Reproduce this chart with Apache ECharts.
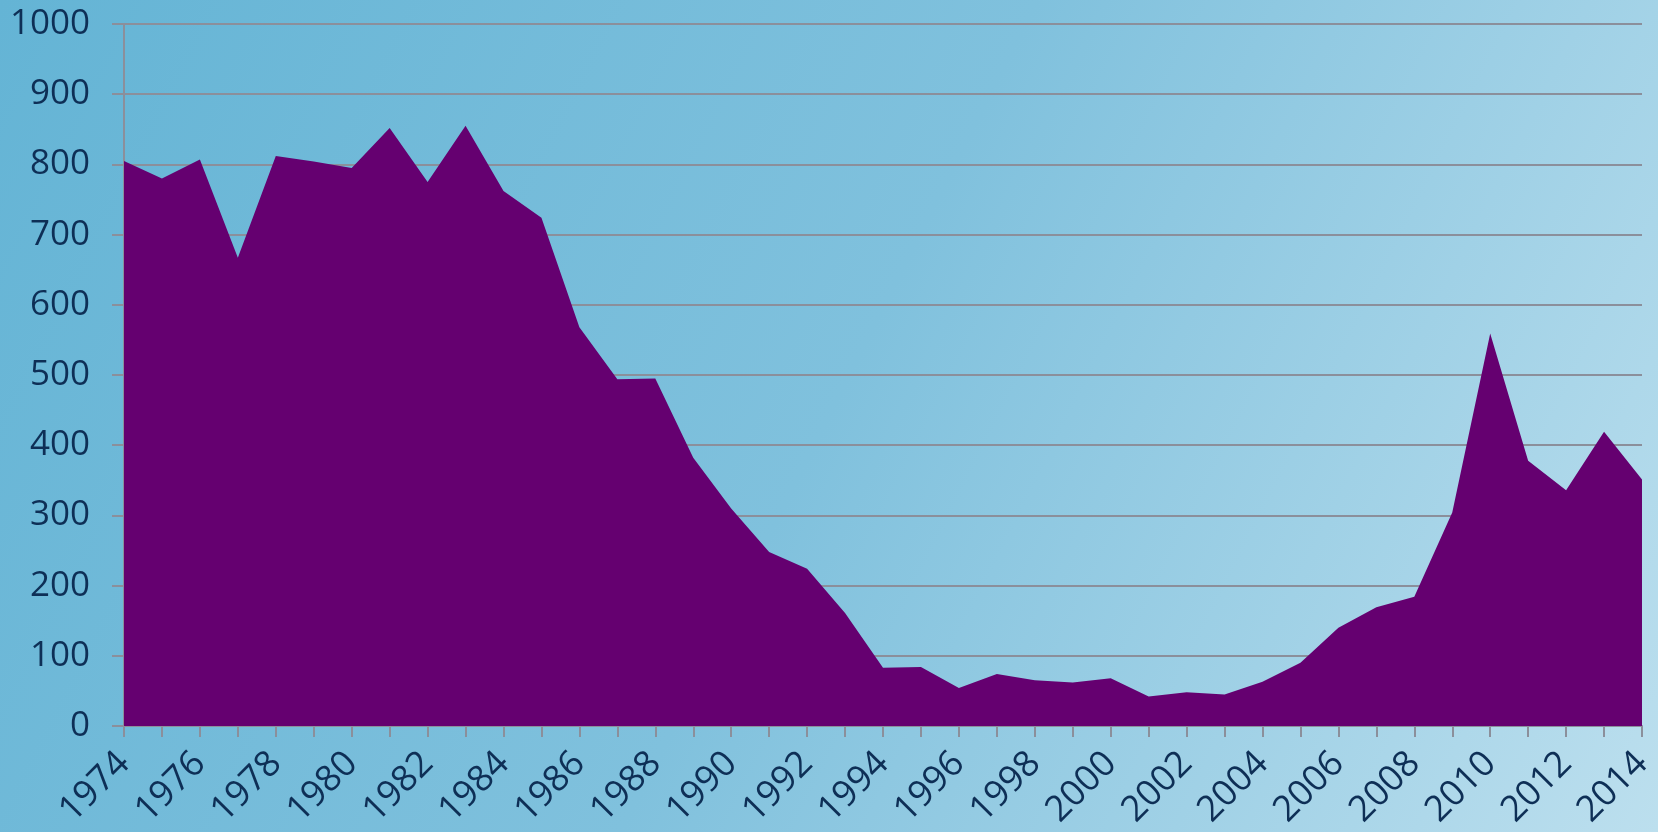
<!DOCTYPE html>
<html>
<head>
<meta charset="utf-8">
<title>Area chart 1974-2014</title>
<script src="https://cdn.jsdelivr.net/npm/echarts@6/dist/echarts.min.js"></script>
<style>
    html, body { margin: 0; padding: 0; }
    #chart { width: 1658px; height: 832px; }
</style>
</head>
<body>
<div id="chart"></div>
<script>
// data
let years = [];
for (let y = 1974; y <= 2014; y++) {
    years.push(String(y));
}
let values = [
    805, 780, 807, 667, 812, 804, 795, 852, 775, 855,
    762, 724, 568, 494, 495, 382, 310, 248, 224, 161,
    83, 84, 54, 74, 65, 62, 68, 42, 48, 45,
    63, 90, 140, 169, 184, 304, 559, 378, 336, 419,
    351
];
let yTicks = { min: 0, max: 1000, interval: 100 };

let textColor = '#0e2f56';
let lineColor = '#8b8f9b';
let fontFamily = '"Open Sans", "Noto Sans", sans-serif';

let chart = echarts.init(document.getElementById('chart'));

chart.setOption({
    animation: false,
    backgroundColor: {
        type: 'linear',
        x: 0, y: 0, x2: 1, y2: 1,
        colorStops: [
            { offset: 0, color: '#64b4d5' },
            { offset: 0.5, color: '#80c1dd' },
            { offset: 1, color: '#bcdfee' }
        ]
    },
    grid: {
        left: 124,
        right: 16,
        top: 24,
        bottom: 106,
        outerBoundsMode: 'none'
    },
    xAxis: {
        type: 'category',
        data: years,
        boundaryGap: false,
        axisLine: { lineStyle: { color: lineColor, width: 2 } },
        axisTick: {
            interval: 0,
            length: 11,
            lineStyle: { color: lineColor, width: 2 }
        },
        axisLabel: {
            interval: 1,
            rotate: 45,
            margin: 32,
            color: textColor,
            fontSize: 36,
            fontFamily: fontFamily
        },
        splitLine: { show: false }
    },
    yAxis: {
        type: 'value',
        min: yTicks.min,
        max: yTicks.max,
        interval: yTicks.interval,
        axisLine: { show: true, lineStyle: { color: lineColor, width: 2 } },
        axisTick: {
            show: true,
            length: 12,
            lineStyle: { color: lineColor, width: 2 }
        },
        axisLabel: {
            margin: 34,
            color: textColor,
            fontSize: 35,
            fontFamily: fontFamily,
            formatter: v => String(v)
        },
        splitLine: { lineStyle: { color: lineColor, width: 2 } }
    },
    series: [{
        type: 'line',
        data: values,
        symbol: 'none',
        lineStyle: { width: 0 },
        areaStyle: { color: '#650070', opacity: 1 },
        z: 3
    }]
});
</script>
</body>
</html>
